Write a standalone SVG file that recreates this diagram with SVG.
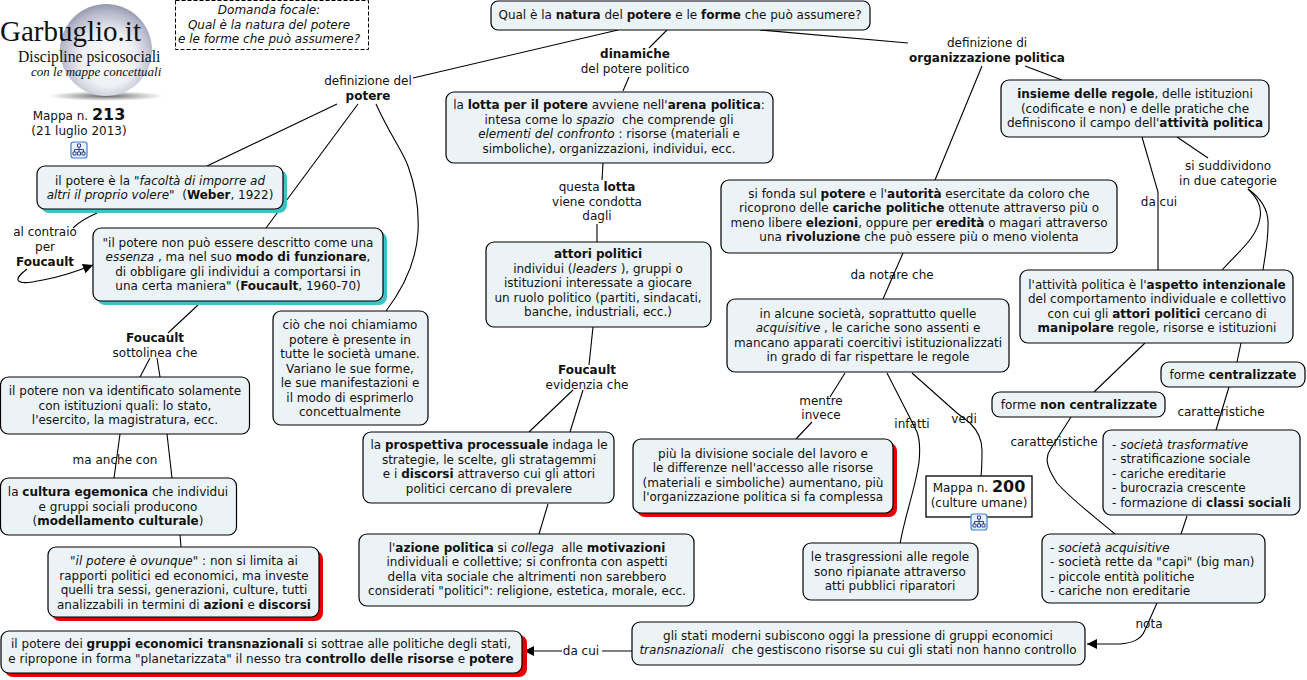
<svg xmlns="http://www.w3.org/2000/svg" width="1307" height="680" viewBox="0 0 1307 680">
<style>
text{font-family:"DejaVu Sans","Verdana",sans-serif;font-size:12px;fill:#111;text-anchor:middle;white-space:pre}
.l{text-anchor:start}
.b{font-weight:700}
.i{font-style:italic}
.n{fill:#ecf3f6;stroke:#000;stroke-width:1.2}
.con{fill:none;stroke:#000;stroke-width:1.1}
.teal{fill:#3cc3c6}
.red{fill:#e80000}
.big{font-size:16px;font-weight:700}
.logo{font-family:"Liberation Serif",serif;text-anchor:start}
</style>
<defs>
<radialGradient id="sphere" cx="0.5" cy="0.58" r="0.6" fx="0.55" fy="0.62">
<stop offset="0" stop-color="#ffffff"/><stop offset="0.5" stop-color="#eeeff4"/><stop offset="0.82" stop-color="#b9bbcd"/><stop offset="1" stop-color="#8d90a8"/>
</radialGradient>
<radialGradient id="shade"><stop offset="0" stop-color="#666"/><stop offset="1" stop-color="#777" stop-opacity="0"/></radialGradient>
<marker id="arr" viewBox="0 0 10 10" refX="10" refY="5" markerWidth="10" markerHeight="10" markerUnits="userSpaceOnUse" orient="auto"><path d="M0 0L10 5L0 10z" fill="#000"/></marker>
<g id="ico">
<rect x="-8" y="-8" width="16" height="16" rx="2.500" fill="#e6f0fb" stroke="#3f7fd0" stroke-width="1.200"/>
<path d="M-1.500-6h3v3h-3zM-6 2h3v3h-3zM-1.500 2h3v3h-3zM3 2h3v3h-3z" fill="#fff" stroke="#23367a" stroke-width=".9"/>
<path d="M0-3V2M-4.500 2V-.5H4.500V2" fill="none" stroke="#23367a" stroke-width=".9"/>
</g>
</defs>
<rect width="1307" height="680" fill="#fff"/>

<g id="logo">
<ellipse cx="106" cy="96" rx="58" ry="5" fill="url(#shade)"/>
<circle cx="106" cy="50" r="46" fill="url(#sphere)"/>
<text class="logo" x="0" y="41" style="font-size:29px">Garbuglio.it</text>
<text class="logo" x="18" y="62" style="font-size:15.700px">Discipline psicosociali</text>
<text class="logo i" x="31" y="76" style="font-size:13px">con le mappe concettuali</text>
</g>

<g id="connectors">
<path class="con" d="M618 30L413 78"/>
<path class="con" d="M667 30L649 48"/>
<path class="con" d="M629 77L623 91"/>
<path class="con" d="M760 30L908 43"/>
<path class="con" d="M982 66L935 180"/>
<path class="con" d="M1025 66L1062 80"/>
<path class="con" d="M1142 137L1158 192V270"/>
<path class="con" d="M1177 137L1208 158"/>
<path class="con" d="M1248 189C1258 198 1262 208 1260 218C1257 238 1238 252 1222 270"/>
<path class="con" d="M1248 189C1262 199 1269 212 1268 226C1268 242 1265 256 1263 270"/>
<path class="con" d="M1145 343L1094 392"/>
<path class="con" d="M1241 343L1237 362"/>
<path class="con" d="M1229 387L1216 430"/>
<path class="con" d="M1187 516L1181 534"/>
<path class="con" d="M1071 417L1050 450C1043 460 1050 472 1057 483C1072 500 1095 517 1115 534"/>
<path class="con" d="M1157 603L1145 630C1141 640 1132 643 1120 644L1087 644" marker-end="url(#arr)"/>
<path class="con" d="M632 651H602M562 651H524" marker-end="url(#arr)"/>
<path class="con" d="M337 104L207 166"/>
<path class="con" d="M358 104L266 228"/>
<path class="con" d="M376 104C390 135 402 150 408 166C416 188 419 212 418 232C416 265 402 290 386 311"/>
<path class="con" d="M97 213C88 217 80 221 73 228"/>
<path class="con" d="M27 269C22 273 17 277 18 280C20 284 28 283 43 280C60 277 75 272 93 265" marker-end="url(#arr)"/>
<path class="con" d="M198 305L168 333"/>
<path class="con" d="M150 358L140 377"/>
<path class="con" d="M157 358L160 377"/>
<path class="con" d="M120 434L114 478"/>
<path class="con" d="M167 434L172 478"/>
<path class="con" d="M180 535L181 547"/>
<path class="con" d="M603 163L602 180"/>
<path class="con" d="M597 224V242"/>
<path class="con" d="M593 327L589 365"/>
<path class="con" d="M573 390L529 432"/>
<path class="con" d="M583 390L570 432"/>
<path class="con" d="M548 504L539 534"/>
<path class="con" d="M903 253L883 299"/>
<path class="con" d="M845 373L830 397"/>
<path class="con" d="M812 422L796 439"/>
<path class="con" d="M887 373L910 418L917 432C920 440 920 452 919 462C915 490 905 515 900 544"/>
<path class="con" d="M912 373L957 413L970 423C977 430 982 438 982 450C982 460 982 468 981 476"/>
</g>

<g id="focale">
<rect x="175.500" y="0.500" width="193" height="49" fill="#fff" stroke="#000" stroke-dasharray="4 2"/>
<text x="269" y="14" class="i">Domanda focale:</text>
<text x="269" y="29" class="i">Qual è la natura del potere</text>
<text x="269" y="43" class="i">e le forme che può assumere?</text>
</g>

<g id="mappa213">
<text x="79" y="120"><tspan>Mappa n. </tspan><tspan class="big">213</tspan></text>
<text x="79" y="135">(21 luglio 2013)</text>
<use href="#ico" x="79" y="150"/>
</g>

<g id="n-top"><rect class="n" x="491" y="1" width="379" height="29" rx="7"/>
<text x="680" y="19">Qual è la <tspan class="b">natura</tspan> del <tspan class="b">potere</tspan> e le <tspan class="b">forme</tspan> che può assumere?</text></g>

<g id="l-defpotere"><text x="368" y="85">definizione del</text><text x="368" y="100" class="b">potere</text></g>
<g id="l-dinamiche"><text x="635" y="58" class="b">dinamiche</text><text x="635" y="73">del potere politico</text></g>
<g id="l-deforg"><text x="987" y="47">definizione di</text><text x="987" y="62" class="b">organizzazione politica</text></g>

<g id="n-regole"><rect class="n" x="1001" y="80" width="268" height="57" rx="8"/>
<text x="1135" y="98"><tspan class="b">insieme delle regole</tspan>, delle istituzioni</text>
<text x="1135" y="113">(codificate e non) e delle pratiche che</text>
<text x="1135" y="127">definiscono il campo dell'<tspan class="b">attività politica</tspan></text></g>

<g id="l-dacui1"><text x="1159" y="206">da cui</text></g>
<g id="l-suddiv"><text x="1228" y="170">si suddividono</text><text x="1228" y="185">in due categorie</text></g>

<g id="n-attivita"><rect class="n" x="1020" y="270" width="273" height="73" rx="8"/>
<text x="1157" y="289">l'attività politica è l'<tspan class="b">aspetto intenzionale</tspan></text>
<text x="1157" y="303">del comportamento individuale e collettivo</text>
<text x="1157" y="318">con cui gli <tspan class="b">attori politici</tspan> cercano di</text>
<text x="1157" y="332"><tspan class="b">manipolare</tspan> regole, risorse e istituzioni</text></g>

<g id="n-centr"><rect class="n" x="1161" y="362" width="144" height="25" rx="8"/>
<text x="1233" y="379">forme <tspan class="b">centralizzate</tspan></text></g>
<g id="n-noncentr"><rect class="n" x="992" y="392" width="173" height="25" rx="8"/>
<text x="1079" y="409">forme <tspan class="b">non centralizzate</tspan></text></g>
<g id="l-car1"><text x="1221" y="416">caratteristiche</text></g>
<g id="l-car2"><text x="1054" y="446">caratteristiche</text></g>

<g id="n-trasf"><rect class="n" x="1103" y="430" width="197" height="85" rx="8"/>
<text class="l" x="1112" y="449">- <tspan class="i">società trasformative</tspan></text>
<text class="l" x="1112" y="463">- stratificazione sociale</text>
<text class="l" x="1112" y="478">- cariche ereditarie</text>
<text class="l" x="1112" y="492">- burocrazia crescente</text>
<text class="l" x="1112" y="507">- formazione di <tspan class="b">classi sociali</tspan></text></g>

<g id="n-acq"><rect class="n" x="1042" y="534" width="223" height="69" rx="8"/>
<text class="l" x="1050" y="552">- <tspan class="i">società acquisitive</tspan></text>
<text class="l" x="1050" y="566">- società rette da "capi" (big man)</text>
<text class="l" x="1050" y="581">- piccole entità politiche</text>
<text class="l" x="1050" y="595">- cariche non ereditarie</text></g>
<g id="l-nota"><text x="1149" y="628">nota</text></g>

<g id="n-stati"><rect class="n" x="632" y="622" width="453" height="43" rx="8"/>
<text x="858" y="640">gli stati moderni subiscono oggi la pressione di gruppi economici</text>
<text x="858" y="654"><tspan class="i">transnazionali</tspan>  che gestiscono risorse su cui gli stati non hanno controllo</text></g>
<g id="l-dacui2"><text x="581" y="655">da cui</text></g>

<g id="n-planet"><rect class="red" x="5" y="635" width="522" height="42" rx="8"/><rect class="n" x="1" y="631" width="521" height="42" rx="8"/>
<text x="261" y="648">il potere dei <tspan class="b">gruppi economici transnazionali</tspan> si sottrae alle politiche degli stati,</text>
<text x="261" y="663">e ripropone in forma "planetarizzata" il nesso tra <tspan class="b">controllo delle risorse</tspan> e <tspan class="b">potere</tspan></text></g>

<g id="n-weber"><rect class="teal" x="41" y="170" width="246" height="43" rx="8"/><rect class="n" x="37" y="166" width="246" height="43" rx="8"/>
<text x="160" y="185">il potere è la <tspan class="i">"facoltà di imporre ad</tspan></text>
<text x="160" y="199"><tspan class="i">altri il proprio volere"</tspan>  (<tspan class="b">Weber</tspan>, 1922)</text></g>

<g id="l-contraio"><text x="45" y="236">al contraio</text><text x="45" y="251">per</text><text x="45" y="266" class="b">Foucault</text></g>

<g id="n-essenza"><rect class="teal" x="97" y="232" width="290" height="73" rx="8"/><rect class="n" x="93" y="228" width="290" height="73" rx="8"/>
<text x="238" y="247">"il potere non può essere descritto come una</text>
<text x="238" y="261"><tspan class="i">essenza</tspan> , ma nel suo <tspan class="b">modo di funzionare</tspan>,</text>
<text x="238" y="276">di obbligare gli individui a comportarsi in</text>
<text x="238" y="290">una certa maniera" (<tspan class="b">Foucault</tspan>, 1960-70)</text></g>

<g id="l-sottolinea"><text x="155" y="342" class="b">Foucault</text><text x="155" y="357">sottolinea che</text></g>

<g id="n-cio"><rect class="n" x="273" y="311" width="155" height="114" rx="8"/>
<text x="350" y="329">ciò che noi chiamiamo</text>
<text x="350" y="344">potere è presente in</text>
<text x="350" y="358">tutte le società umane.</text>
<text x="350" y="373">Variano le sue forme,</text>
<text x="350" y="387">le sue manifestazioni e</text>
<text x="350" y="402">il modo di esprimerlo</text>
<text x="350" y="416">concettualmente</text></g>

<g id="n-istituzioni"><rect class="n" x="0.500" y="377" width="249" height="57" rx="8"/>
<text x="125" y="395">il potere non va identificato solamente</text>
<text x="125" y="410">con istituzioni quali: lo stato,</text>
<text x="125" y="424">l'esercito, la magistratura, ecc.</text></g>
<g id="l-maanche"><text x="115" y="464">ma anche con</text></g>

<g id="n-cultura"><rect class="n" x="0.500" y="478" width="236" height="57" rx="8"/>
<text x="118" y="496">la <tspan class="b">cultura egemonica</tspan> che individui</text>
<text x="118" y="511">e gruppi sociali producono</text>
<text x="118" y="525">(<tspan class="b">modellamento culturale</tspan>)</text></g>

<g id="n-ovunque"><rect class="red" x="52" y="551" width="271" height="70" rx="8"/><rect class="n" x="48" y="547" width="271" height="70" rx="8"/>
<text x="184" y="565"><tspan class="i">"il potere è ovunque"</tspan> : non si limita ai</text>
<text x="184" y="580">rapporti politici ed economici, ma investe</text>
<text x="184" y="594">quelli tra sessi, generazioni, culture, tutti</text>
<text x="184" y="609">analizzabili in termini di <tspan class="b">azioni</tspan> e <tspan class="b">discorsi</tspan></text></g>

<g id="n-lotta"><rect class="n" x="446" y="92" width="327" height="71" rx="8"/>
<text x="609" y="109">la <tspan class="b">lotta per il potere</tspan> avviene nell'<tspan class="b">arena politica</tspan>:</text>
<text x="609" y="124">intesa come lo <tspan class="i">spazio</tspan>  che comprende gli</text>
<text x="609" y="138"><tspan class="i">elementi del confronto</tspan> : risorse (materiali e</text>
<text x="609" y="153">simboliche), organizzazioni, individui, ecc.</text></g>

<g id="l-questa"><text x="597" y="191">questa <tspan class="b">lotta</tspan></text><text x="597" y="206">viene condotta</text><text x="597" y="220">dagli</text></g>

<g id="n-attori"><rect class="n" x="486" y="242" width="225" height="85" rx="8"/>
<text x="598" y="258" class="b">attori politici</text>
<text x="598" y="273">individui (<tspan class="i">leaders</tspan> ), gruppi o</text>
<text x="598" y="287">istituzioni interessate a giocare</text>
<text x="598" y="302">un ruolo politico (partiti, sindacati,</text>
<text x="598" y="316">banche, industriali, ecc.)</text></g>

<g id="l-evidenzia"><text x="587" y="374" class="b">Foucault</text><text x="587" y="389">evidenzia che</text></g>

<g id="n-prosp"><rect class="n" x="363" y="432" width="251" height="71" rx="8"/>
<text x="489" y="449">la <tspan class="b">prospettiva processuale</tspan> indaga le</text>
<text x="489" y="464">strategie, le scelte, gli stratagemmi</text>
<text x="489" y="478">e i <tspan class="b">discorsi</tspan> attraverso cui gli attori</text>
<text x="489" y="493">politici cercano di prevalere</text></g>

<g id="n-azione"><rect class="n" x="359" y="534" width="335" height="72" rx="8"/>
<text x="527" y="552">l'<tspan class="b">azione politica</tspan> si <tspan class="i">collega</tspan>  alle <tspan class="b">motivazioni</tspan></text>
<text x="527" y="566">individuali e collettive; si confronta con aspetti</text>
<text x="527" y="581">della vita sociale che altrimenti non sarebbero</text>
<text x="527" y="595">considerati "politici": religione, estetica, morale, ecc.</text></g>

<g id="n-fonda"><rect class="n" x="721" y="180" width="396" height="73" rx="8"/>
<text x="919" y="198">si fonda sul <tspan class="b">potere</tspan> e l'<tspan class="b">autorità</tspan> esercitate da coloro che</text>
<text x="919" y="212">ricoprono delle <tspan class="b">cariche politiche</tspan> ottenute attraverso più o</text>
<text x="919" y="227">meno libere <tspan class="b">elezioni</tspan>, oppure per <tspan class="b">eredità</tspan> o magari attraverso</text>
<text x="919" y="241">una <tspan class="b">rivoluzione</tspan> che può essere più o meno violenta</text></g>

<g id="l-danotare"><text x="892" y="279">da notare che</text></g>

<g id="n-alcune"><rect class="n" x="727" y="299" width="282" height="73" rx="8"/>
<text x="868" y="318">in alcune società, soprattutto quelle</text>
<text x="868" y="332"><tspan class="i">acquisitive</tspan> , le cariche sono assenti e</text>
<text x="868" y="347">mancano apparati coercitivi istituzionalizzati</text>
<text x="868" y="361">in grado di far rispettare le regole</text></g>

<g id="l-mentre"><text x="821" y="405">mentre</text><text x="821" y="419">invece</text></g>
<g id="l-infatti"><text x="912" y="428">infatti</text></g>
<g id="l-vedi"><text x="964" y="423">vedi</text></g>

<g id="n-divisione"><rect class="red" x="637" y="443" width="260" height="74" rx="8"/><rect class="n" x="633" y="439" width="260" height="74" rx="8"/>
<text x="763" y="458">più la divisione sociale del lavoro e</text>
<text x="763" y="472">le differenze nell'accesso alle risorse</text>
<text x="763" y="487">(materiali e simboliche) aumentano, più</text>
<text x="763" y="501">l'organizzazione politica si fa complessa</text></g>

<g id="n-mappa200"><rect x="926" y="476" width="106" height="41" fill="#fff" stroke="#000" stroke-width="1.300"/>
<text x="979" y="492"><tspan>Mappa n. </tspan><tspan class="big">200</tspan></text>
<text x="979" y="507">(culture umane)</text>
<use href="#ico" x="979" y="522"/></g>

<g id="n-trasgr"><rect class="n" x="803" y="543" width="175" height="57" rx="8"/>
<text x="890" y="561">le trasgressioni alle regole</text>
<text x="890" y="576">sono ripianate attraverso</text>
<text x="890" y="590">atti pubblici riparatori</text></g>
</svg>
